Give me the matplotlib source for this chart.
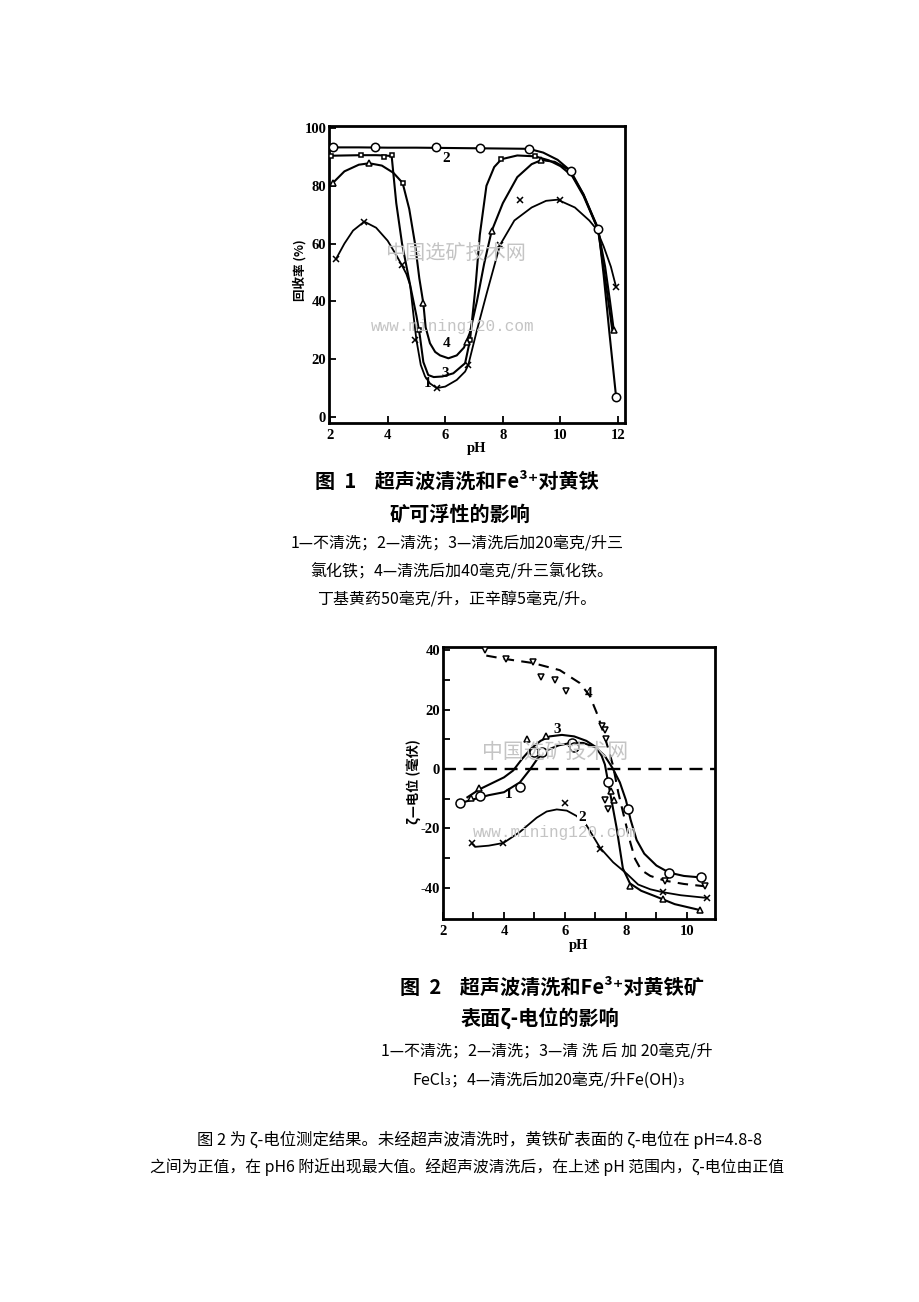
import matplotlib
matplotlib.use('Agg')
import matplotlib.pyplot as plt

W, H = 920, 1302
CJK = ['Noto Sans CJK SC', 'DejaVu Sans']
SERIF = ['Liberation Serif', 'DejaVu Serif']
MONO = ['Liberation Mono', 'DejaVu Sans Mono']
plt.rcParams['font.family'] = CJK

# ---- figure 1 : flotation recovery vs pH ----
# curve 1 (x) not cleaned
c1_ph = [2.21, 2.5, 2.8, 3.19, 3.6, 4.0, 4.3, 4.49, 4.65, 4.78, 4.9, 5.0, 5.15, 5.3, 5.47, 5.7,
         6.0, 6.4, 6.69, 6.8, 7.1, 7.44, 7.9, 8.4, 9.0, 9.5, 9.9, 10.5, 11.0, 11.25, 11.5, 11.75, 11.93]
c1_r = [54.7, 60, 64.5, 67.6, 65.5, 61, 56, 52.6, 49.5, 45.7, 35, 26.6, 18, 14, 11.6, 10,
        10.5, 12.8, 15.7, 18, 30, 42.8, 59.5, 68, 72.5, 74.8, 75.2, 72.5, 68, 65, 59, 52, 45]
c1_mph = [2.21, 3.19, 4.49, 4.95, 5.7, 6.8, 7.9, 8.59, 10.0, 11.93]
c1_mr = [54.7, 67.6, 52.6, 26.6, 9.9, 18, 59.5, 75.1, 75.1, 45.1]
# curve 2 (o) cleaned
c2_ph = [2.0, 3.0, 4.0, 5.0, 6.0, 7.0, 8.0, 8.9, 9.4, 9.9, 10.35, 10.8, 11.1, 11.32, 11.5, 11.7, 11.93]
c2_r = [93.3, 93.3, 93.2, 93.2, 93.1, 93.0, 92.9, 92.8, 91.5, 89.0, 85.2, 77.0, 70.0, 65.0, 49, 29, 7.0]
c2_mph = [2.1, 3.55, 5.67, 7.2, 8.9, 10.35, 11.32, 11.93]
c2_mr = [93.3, 93.4, 93.4, 93.0, 92.8, 85.2, 65.0, 7.0]
# curve 3 (squares) cleaned + 20 mg/L FeCl3
c3_ph = [2.0, 2.5, 3.07, 3.6, 3.9, 4.14, 4.3, 4.5, 4.78, 5.0, 5.12, 5.24, 5.41, 5.6, 5.9, 6.28, 6.69,
         6.86, 7.05, 7.2, 7.43, 7.7, 7.95, 8.5, 9.12, 9.6, 10.0, 10.4, 10.8, 11.3, 11.55, 11.8]
c3_r = [90.4, 90.5, 90.6, 90.6, 90.5, 90.3, 74, 60, 45.7, 35, 28, 19, 14.5, 13.8, 14, 15.1, 18.6,
        26.6, 45, 63, 80, 86.5, 89.2, 90.5, 90.2, 88.8, 86.8, 83.5, 76.5, 65, 48, 30]
c3_mph = [2.05, 3.07, 3.88, 4.14, 4.52, 5.09, 6.86, 7.95, 9.12]
c3_mr = [90.4, 90.6, 90.0, 90.8, 81, 30, 26.6, 89.2, 90.2]
# curve 4 (triangles) cleaned + 40 mg/L FeCl3
c4_ph = [2.1, 2.5, 3.0, 3.36, 3.8, 4.2, 4.52, 4.75, 4.95, 5.1, 5.24, 5.32, 5.47, 5.65, 5.82, 6.11,
         6.4, 6.65, 6.85, 7.1, 7.35, 7.61, 8.0, 8.5, 9.0, 9.34, 9.8, 10.3, 10.8, 11.3, 11.55, 11.72, 11.85]
c4_r = [81, 85, 87.3, 87.8, 87, 84.5, 81, 72, 60, 48, 39.3, 31, 25.5, 22.5, 21.3, 20.3,
        21.3, 24, 29, 40, 53, 64.3, 74, 83, 87.5, 88.9, 88.3, 85.5, 77, 65, 52, 40, 30]
c4_mph = [2.1, 3.36, 5.24, 6.74, 7.61, 9.34, 11.85]
c4_mr = [81, 87.8, 39.3, 26, 64.3, 88.9, 30]

# ---- figure 2 : zeta potential vs pH ----
b1_ph = [2.56, 3.0, 3.5, 4.0, 4.52, 4.85, 5.1, 5.4, 5.8, 6.2, 6.6, 7.0, 7.3, 7.55, 7.8, 8.0, 8.15,
         8.35, 8.6, 9.0, 9.42, 9.9, 10.45]
b1_z = [-11.5, -10.2, -8.8, -7.8, -4.5, -0.2, 3.5, 6.3, 8.0, 8.8, 8.8, 7.3, 4.5, 0.5, -4.5, -10.5, -17,
        -23.9, -28.5, -32.5, -34.9, -36, -36.5]
b1_mph = [2.57, 3.2, 4.51, 4.98, 5.26, 6.24, 6.28, 7.42, 8.08, 9.42, 10.45]
b1_mz = [-11.4, -9.2, -6.2, 5.6, 5.6, 8.9, 7.5, -4.5, -13.4, -34.9, -36.5]
b2_ph = [2.94, 3.05, 3.5, 3.98, 4.52, 5.07, 5.4, 5.73, 6.06, 6.38, 6.71, 7.15, 7.58, 8.02, 8.4, 8.8,
         9.22, 9.8, 10.65]
b2_z = [-25, -26.2, -25.8, -24.9, -21.2, -16.4, -14.3, -13.6, -14, -15.8, -19, -26.5, -31.4, -35.2,
        -38.9, -40.5, -41.5, -42.5, -43.4]
b2_mph = [2.94, 3.98, 6.0, 7.15, 9.22, 10.65]
b2_mz = [-24.9, -24.9, -11.5, -27, -41.3, -43.4]
b3_ph = [2.8, 3.2, 3.5, 4.0, 4.3, 4.6, 4.9, 5.2, 5.5, 5.9, 6.3, 6.7, 7.0, 7.2, 7.31, 7.48, 7.69, 7.9,
         8.13, 8.5, 9.0, 9.6, 10.43]
b3_z = [-9.5, -6.8, -5.3, -2.8, -0.5, 3.5, 7.0, 9.5, 11.0, 11.5, 11.0, 9.5, 7.5, 4.5, 1.5, -8, -19.6,
        -33.5, -38.5, -41, -43, -45.5, -47.5]
b3_mph = [2.93, 3.18, 4.75, 5.37, 7.5, 7.62, 8.13, 9.22, 10.43]
b3_mz = [-9.6, -6.5, 10, 11.1, -7.5, -10.5, -39.3, -43.8, -47.5]
b4_ph = [3.42, 4.08, 4.95, 5.83, 6.48, 6.81, 7.03, 7.19, 7.36, 7.57, 7.75, 7.97, 8.15, 8.3, 8.5, 8.8,
         9.28, 9.9, 10.6]
b4_z = [38.2, 37, 35.7, 33.3, 29, 24.7, 19.2, 14.6, 8.9, 1.4, -8, -17.4, -25, -30.3, -34, -36,
        -37.6, -38.7, -39.5]
b4_mph = [3.38, 4.08, 4.95, 5.22, 5.66, 6.04, 7.2, 7.3, 7.35, 7.31, 7.42, 9.28, 10.6]
b4_mz = [40, 37.2, 35.9, 31.1, 30, 26.4, 14.6, 13.2, 10, -10.4, -13.6, -37.6, -39.5]


def fx(x):
    return x / W


def fy(y):
    return 1 - y / H


def mk(ax, xs, ys, m, ms=5.5):
    ax.plot(xs, ys, ls='none', marker=m, mfc='white', mec='k', ms=ms, mew=1.1, zorder=4)


def style(ax):
    for s in ax.spines.values():
        s.set_linewidth(2.0)
    ax.tick_params(which='both', direction='in', width=1.3, labelsize=10.5)
    ax.tick_params(axis='x', pad=4)
    ax.tick_params(axis='y', pad=2)
    ax.tick_params(which='major', length=5)
    ax.tick_params(which='minor', length=5)
    for lb in ax.get_xticklabels() + ax.get_yticklabels():
        lb.set_family(SERIF)
        lb.set_fontweight('bold')


fig = plt.figure(figsize=(9.2, 13.02), dpi=100)

# top chart
ax1 = fig.add_axes([fx(329), fy(423), (625 - 329) / W, (423 - 126) / H])
lw = 1.5
ax1.plot(c2_ph, c2_r, color='k', lw=lw)
ax1.plot(c3_ph, c3_r, color='k', lw=lw)
ax1.plot(c4_ph, c4_r, color='k', lw=lw)
ax1.plot(c1_ph, c1_r, color='k', lw=1.3)
mk(ax1, c2_mph, c2_mr, 'o', 6)
mk(ax1, c3_mph, c3_mr, 's', 3.5)
mk(ax1, c4_mph, c4_mr, '^', 4.5)
ax1.plot(c1_mph, c1_mr, ls='none', marker='x', color='k', ms=4, mew=1.1)
ax1.set_xlim(1.965, 12.24)
ax1.set_ylim(-2.1, 100.7)
ax1.set_xticks([2, 4, 6, 8, 10, 12])
ax1.set_yticks([0, 20, 40, 60, 80, 100])
style(ax1)
for t, x, y in [('2', 6.05, 89.5), ('4', 6.05, 25.5), ('3', 5.99, 15.0), ('1', 5.38, 11.5)]:
    ax1.text(x, y, t, ha='center', va='center', fontsize=11, fontweight='bold', family=SERIF)
ax1.set_xlabel('pH', family=SERIF, fontweight='bold', fontsize=10.5, labelpad=0)
fig.text(fx(300), fy(270), '回收率 (%)', rotation=90, ha='center', va='center',
         fontsize=9, fontweight='bold')

# bottom chart
ax2 = fig.add_axes([fx(443), fy(919), (715 - 443) / W, (919 - 647) / H])
ax2.axhline(0, color='k', lw=1.7, ls=(0, (5.5, 3.2)))
ax2.plot(b1_ph, b1_z, color='k', lw=lw)
ax2.plot(b3_ph, b3_z, color='k', lw=lw)
ax2.plot(b2_ph, b2_z, color='k', lw=1.3)
ax2.plot(b4_ph, b4_z, color='k', lw=1.5, ls=(0, (5, 3.5)))
mk(ax2, b1_mph, b1_mz, 'o', 6.5)
mk(ax2, b3_mph, b3_mz, '^', 4.5)
mk(ax2, b4_mph, b4_mz, 'v', 4.5)
ax2.plot(b2_mph, b2_mz, ls='none', marker='x', color='k', ms=4, mew=1.1)
ax2.set_xlim(2.0, 10.92)
ax2.set_ylim(-50.5, 41.1)
ax2.set_xticks([2, 4, 6, 8, 10])
ax2.set_xticks([3, 5, 7, 9], minor=True)
ax2.set_yticks([-40, -20, 0, 20, 40])
ax2.set_yticklabels(['-40', '-20', '0', '20', '40'])
ax2.set_yticks([-30, -10, 10, 30], minor=True)
style(ax2)
for t, x, y, bg in [('4', 6.77, 25.3, False), ('3', 5.73, 13.3, False), ('1', 4.14, -8.6, False),
                    ('2', 6.55, -16.4, True)]:
    kw = dict(bbox=dict(fc='white', ec='none', pad=0.3)) if bg else {}
    ax2.text(x, y, t, ha='center', va='center', fontsize=11, family=SERIF, fontweight='bold', **kw)
ax2.set_xlabel('pH', family=SERIF, fontweight='bold', fontsize=10.5, labelpad=1)
fig.text(fx(414), fy(782), 'ζ—电位 (毫伏)', rotation=90, ha='center', va='center',
         fontsize=9.5, fontweight='bold')

# watermarks
wm = '#c4c4c4'
fig.text(fx(455), fy(253), '中国选矿技术网', ha='center', va='center', fontsize=14.5, color=wm)
fig.text(fx(453), fy(326), 'www.mining120.com', ha='center', va='center', fontsize=11.5,
         color=wm, family=MONO)
fig.text(fx(555), fy(752), '中国选矿技术网', ha='center', va='center', fontsize=15, color=wm)
fig.text(fx(555), fy(832), 'www.mining120.com', ha='center', va='center', fontsize=11.5,
         color=wm, family=MONO)

# captions
fig.text(fx(457), fy(481), '图  1    超声波清洗和Fe³⁺对黄铁', ha='center', va='center',
         fontsize=14.5, fontweight='bold', family=CJK)
fig.text(fx(460), fy(514), '矿可浮性的影响', ha='center', va='center', fontsize=14.5,
         fontweight='bold')
fig.text(fx(457), fy(543), '1—不清洗；2—清洗；3—清洗后加20毫克/升三', ha='center', va='center',
         fontsize=11.5)
fig.text(fx(462), fy(572), '氯化铁；4—清洗后加40毫克/升三氯化铁。', ha='center', va='center',
         fontsize=11.5)
fig.text(fx(457), fy(600), '丁基黄药50毫克/升，正辛醇5毫克/升。', ha='center', va='center',
         fontsize=11.5)

fig.text(fx(552), fy(987), '图  2    超声波清洗和Fe³⁺对黄铁矿', ha='center', va='center',
         fontsize=14.5, fontweight='bold', family=CJK)
fig.text(fx(540), fy(1019), '表面ζ-电位的影响', ha='center', va='center', fontsize=14.5,
         fontweight='bold')
fig.text(fx(547), fy(1051), '1—不清洗；2—清洗；3—清 洗 后 加 20毫克/升', ha='center', va='center',
         fontsize=11.5)
fig.text(fx(549), fy(1080), 'FeCl₃；4—清洗后加20毫克/升Fe(OH)₃', ha='center', va='center',
         fontsize=11.5)

# body text
fig.text(fx(197), fy(1140), '图 2 为 ζ-电位测定结果。未经超声波清洗时，黄铁矿表面的 ζ-电位在 pH=4.8-8',
         ha='left', va='center', fontsize=11.8)
fig.text(fx(150), fy(1167), '之间为正值，在 pH6 附近出现最大值。经超声波清洗后，在上述 pH 范围内，ζ-电位由正值',
         ha='left', va='center', fontsize=11.4)

fig.savefig('out.png', dpi=100, facecolor='white')
